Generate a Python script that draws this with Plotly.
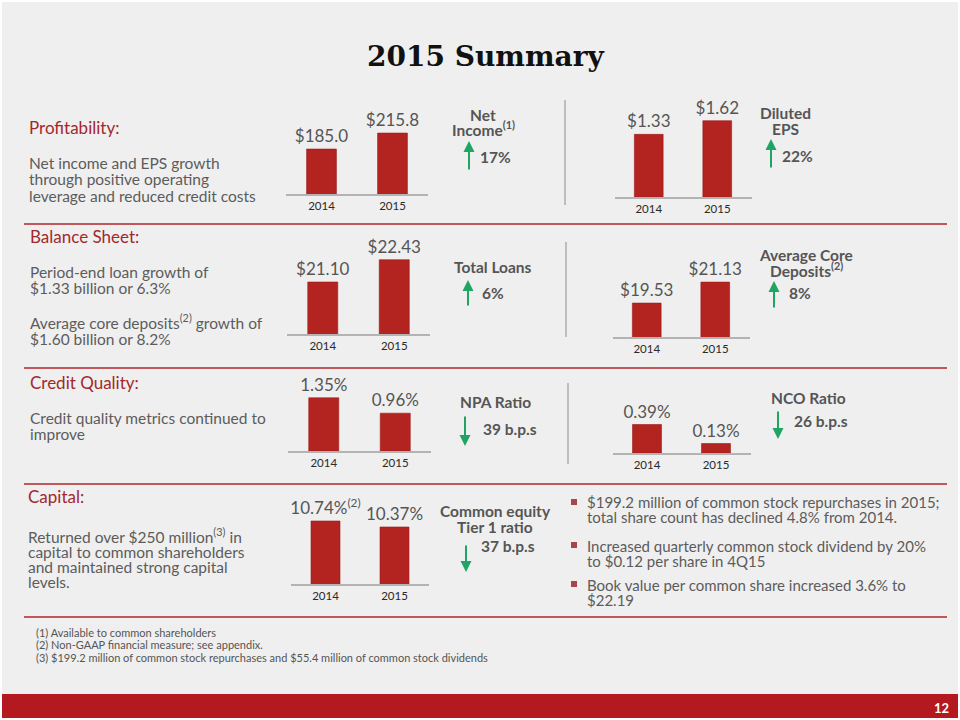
import plotly.graph_objects as go

W, H = 960, 720

# ---------------- data ----------------
years = ["2014", "2015"]
net_income = [185.0, 215.8]
net_income_text = ["$185.0", "$215.8"]
diluted_eps = [1.33, 1.62]
diluted_eps_text = ["$1.33", "$1.62"]
total_loans = [21.10, 22.43]
total_loans_text = ["$21.10", "$22.43"]
core_deposits = [19.53, 21.13]
core_deposits_text = ["$19.53", "$21.13"]
npa_ratio = [1.35, 0.96]
npa_ratio_text = ["1.35%", "0.96%"]
nco_ratio = [0.39, 0.13]
nco_ratio_text = ["0.39%", "0.13%"]
cet1_ratio = [10.74, 10.37]
cet1_ratio_text = ["10.74%<sup>(2)</sup>", "10.37%"]

# ---------------- styles ----------------
FONT = "Lato"
BAR = "#b3231f"
GREEN = "#1fa463"
RED_HDR = "#a3282b"
BODY = "#5c5c5c"
LABEL = "#555555"
SEP = "#c0585b"


def px(x):
    return x / W


def py(y):
    return 1 - y / H


# values, text, left px, category step px, baseline px, axis floor, px per unit
charts = [
    (net_income, net_income_text, 286, 71, 194, 98.4, 0.519),
    (diluted_eps, diluted_eps_text, 614.5, 68.5, 197, 0.0, 47.1),
    (total_loans, total_loans_text, 287, 71.5, 334, 18.0, 16.77),
    (core_deposits, core_deposits_text, 612.5, 68.5, 337, 16.94, 13.1),
    (npa_ratio, npa_ratio_text, 288, 71.5, 451, 0.0, 39.4),
    (nco_ratio, nco_ratio_text, 612.5, 69, 453, 0.0, 73.0),
    (cet1_ratio, cet1_ratio_text, 291, 69, 584, 6.85, 16.2),
]

fig = go.Figure()
layout = dict(
    width=W, height=H, autosize=False,
    margin=dict(l=0, r=0, t=0, b=0),
    paper_bgcolor="#efefef", plot_bgcolor="rgba(0,0,0,0)",
    showlegend=False,
    font=dict(family=FONT, color=BODY),
)

PANEL = 100
for i, (vals, txt, left, step, base, floor, k) in enumerate(charts, start=1):
    sfx = "" if i == 1 else str(i)
    fig.add_trace(go.Bar(
        x=years, y=vals, text=txt, textposition="outside",
        cliponaxis=False, constraintext="none",
        textfont=dict(family=FONT, size=17, color="#555555"),
        marker=dict(color=BAR, line=dict(color="#9c1c18", width=0.6)),
        width=0.42, hoverinfo="skip",
        xaxis="x" + sfx, yaxis="y" + sfx,
    ))
    layout["xaxis" + sfx] = dict(
        domain=[px(left), px(left + 2 * step)], anchor="y" + sfx,
        type="category", range=[-0.5, 1.5],
        showline=True, linecolor="#b3b3b3", linewidth=1.5,
        ticks="", showgrid=False, zeroline=False,
        tickfont=dict(family=FONT, size=11.5, color="#2a2a2a"),
        fixedrange=True,
    )
    layout["yaxis" + sfx] = dict(
        domain=[py(base), py(base - PANEL)], anchor="x" + sfx,
        range=[floor, floor + PANEL / k],
        visible=False, showgrid=False, zeroline=False, fixedrange=True,
    )

annotations = []
SUP_SHIFT = 1.5  # superscripts enlarge the text box upward; re-centre the line


def text(x, y, s, size=15.5, color=BODY, bold=False, xanchor="left"):
    if "<sup>" in s:
        y -= SUP_SHIFT
    annotations.append(dict(
        x=px(x), y=py(y), xref="paper", yref="paper", text=s,
        showarrow=False, xanchor=xanchor, yanchor="middle",
        font=dict(family=FONT, size=size, color=color,
                  weight="bold" if bold else "normal"),
    ))


def arrow(x, y_tail, y_tip):
    annotations.append(dict(
        x=px(x), y=py(y_tip), xref="paper", yref="paper", text="",
        showarrow=True, ax=0, ay=y_tail - y_tip,
        arrowhead=2, arrowsize=1.1, arrowwidth=2.0, arrowcolor=GREEN,
        standoff=0, startstandoff=0,
    ))


# Title
annotations.append(dict(
    x=px(485), y=py(57), xref="paper", yref="paper", text="<b>2015 Summary</b>",
    showarrow=False, xanchor="center", yanchor="middle",
    font=dict(family="DejaVu Serif", size=28, color="#111111"),
))

# Section: Profitability
text(27, 127, "Profitability:", 17, RED_HDR)
text(27, 163, "Net income and EPS growth")
text(27, 179, "through positive operating")
text(27, 196, "leverage and reduced credit costs")

# Section: Balance Sheet
text(28, 237, "Balance Sheet:", 17, RED_HDR)
text(28, 272, "Period-end loan growth of")
text(28, 288, "$1.33 billion or 6.3%")
text(28, 323, "Average core deposits<sup>(2)</sup> growth of")
text(28, 339, "$1.60 billion or 8.2%")

# Section: Credit Quality
text(28, 382, "Credit Quality:", 17, RED_HDR)
text(28, 418, "Credit quality metrics continued to")
text(28, 434, "improve")

# Section: Capital
text(26, 496, "Capital:", 17, RED_HDR)
text(26, 537, "Returned over $250 million<sup>(3)</sup> in")
text(26, 552, "capital to common shareholders")
text(26, 567, "and maintained strong capital")
text(26, 582, "levels.")

# Metric labels
LB = 15.5
text(483, 115, "Net", LB, LABEL, True, "center")
text(483, 130, "Income<sup>(1)</sup>", LB, LABEL, True, "center")
arrow(469, 171, 141)
text(478, 157, "17%", LB, LABEL, True)

text(785, 113, "Diluted", LB, LABEL, True, "center")
text(785, 129, "EPS", LB, LABEL, True, "center")
arrow(771, 169, 139)
text(780, 156, "22%", LB, LABEL, True)

text(493, 267, "Total Loans", LB, LABEL, True, "center")
arrow(468, 307, 280)
text(480, 293, "6%", LB, LABEL, True)

text(806, 255, "Average Core", LB, LABEL, True, "center")
text(806, 271, "Deposits<sup>(2)</sup>", LB, LABEL, True, "center")
arrow(774, 309, 281)
text(787, 293, "8%", LB, LABEL, True)

text(495, 402, "NPA Ratio", LB, LABEL, True, "center")
arrow(465, 415, 446)
text(481, 429, "39 b.p.s", LB, LABEL, True)

text(808, 398, "NCO Ratio", LB, LABEL, True, "center")
arrow(778, 410, 439)
text(792, 421, "26 b.p.s", LB, LABEL, True)

text(495, 511, "Common equity", LB, LABEL, True, "center")
text(495, 527, "Tier 1 ratio", LB, LABEL, True, "center")
arrow(466, 544, 572)
text(479, 546, "37 b.p.s", LB, LABEL, True)

# Bullets
bullet_lines = [
    (502, "$199.2 million of common stock repurchases in 2015;"),
    (517, "total share count has declined 4.8% from 2014."),
    (546, "Increased quarterly common stock dividend by 20%"),
    (561, "to $0.12 per share in 4Q15"),
    (585, "Book value per common share increased 3.6% to"),
    (600, "$22.19"),
]
for yy, s in bullet_lines:
    text(585, yy, s, 15, BODY)

# Footnotes
text(34, 632, "(1) Available to common shareholders", 11, "#555555")
text(34, 644.5, "(2) Non-GAAP financial measure; see appendix.", 11, "#555555")
text(34, 657, "(3) $199.2 million of common stock repurchases and $55.4 million of common stock dividends", 11, "#555555")

# Page number
text(941, 708, "12", 13, "#ffffff", True, "center")

shapes = []
# horizontal separators
for yy in [224, 368, 484, 617]:
    shapes.append(dict(type="line", xref="paper", yref="paper",
                       x0=px(24), x1=px(947), y0=py(yy), y1=py(yy),
                       line=dict(color=SEP, width=1.8)))
# vertical separators
for x, y0, y1 in [(565, 100, 205), (566, 242, 337), (568, 383, 464)]:
    shapes.append(dict(type="line", xref="paper", yref="paper",
                       x0=px(x), x1=px(x), y0=py(y0), y1=py(y1),
                       line=dict(color="#8c8c8c", width=1)))
# bullet squares
for yy in [502, 545, 584]:
    shapes.append(dict(type="rect", xref="paper", yref="paper",
                       x0=px(571), x1=px(577), y0=py(yy + 3), y1=py(yy - 3),
                       fillcolor="#a8474a", line=dict(width=0)))
# red footer band
shapes.append(dict(type="rect", xref="paper", yref="paper",
                   x0=0, x1=1, y0=0, y1=py(694),
                   fillcolor="#b3191e", line=dict(width=0), layer="below"))
# white frame
shapes.append(dict(type="rect", xref="paper", yref="paper",
                   x0=0, x1=1, y0=0, y1=1,
                   line=dict(color="#ffffff", width=4), fillcolor="rgba(0,0,0,0)"))

layout["annotations"] = annotations
layout["shapes"] = shapes
fig.update_layout(**layout)

fig.write_html(
    "out.html",
    config={"displayModeBar": False},
    post_script="document.body.style.margin='0';document.body.style.padding='0';",
)
